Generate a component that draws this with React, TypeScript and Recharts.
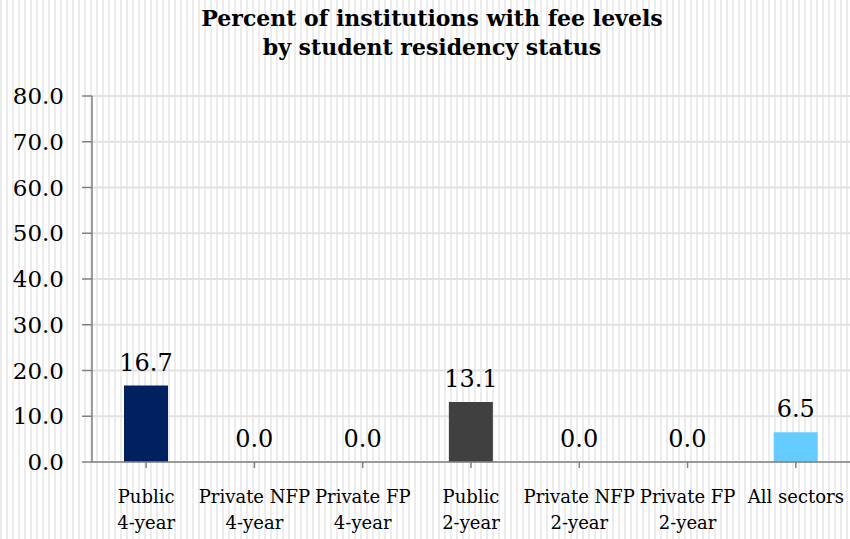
import { Bar, BarChart, CartesianGrid, Cell, XAxis, YAxis } from "recharts";

const sectors = ["Public", "Private NFP", "Private FP", "Public", "Private NFP", "Private FP", "All sectors"];
const levels = ["4-year", "4-year", "4-year", "2-year", "2-year", "2-year", ""];
const percents = [16.7, 0.0, 0.0, 13.1, 0.0, 0.0, 6.5];
const barColors = ["#002060", "#002060", "#002060", "#404040", "#404040", "#404040", "#66CCFF"];
const yTicks = [0, 10, 20, 30, 40, 50, 60, 70, 80];

const data = sectors.map((sector, i) => ({
  name: `${sector}|${levels[i]}`,
  value: percents[i],
}));

const FONT = "DejaVu Serif";

function CategoryTick(props: any) {
  const { x, y, payload } = props;
  const [line1, line2] = String(payload.value).split("|");
  return (
    <g transform={`translate(${x},${y})`}>
      <text x={0} y={0} textAnchor="middle" fontFamily={FONT} fontSize={18} fill="#000">
        <tspan x={0} dy={33}>{line1}</tspan>
        {line2 ? <tspan x={0} dy={26}>{line2}</tspan> : null}
      </text>
    </g>
  );
}

function ValueLabel(props: any) {
  const { x, y, width, height, value } = props;
  // zero bars get a 1px stub so the label is still drawn; keep label on the axis
  const top = value === 0 ? y + height : y;
  return (
    <text
      x={x + width / 2}
      y={top - 15}
      textAnchor="middle"
      fontFamily={FONT}
      fontSize={24}
      fill="#000"
    >
      {Number(value).toFixed(1)}
    </text>
  );
}

export default function App() {
  return (
    <div
      style={{
        position: "absolute",
        left: 0,
        top: 0,
        width: 850,
        height: 539,
        background:
          "repeating-linear-gradient(90deg, #ececec 0px, #ececec 2px, #ffffff 2px, #ffffff 6px)",
        fontFamily: FONT,
      }}
    >
      <div
        style={{
          position: "absolute",
          left: 182,
          width: 500,
          top: 4,
          textAlign: "center",
          fontWeight: "bold",
          fontSize: 22,
          lineHeight: "29px",
          color: "#000",
        }}
      >
        Percent of institutions with fee levels
        <br />
        by student residency status
      </div>
      <BarChart
        width={850}
        height={539}
        data={data}
        margin={{ top: 96, right: 0, bottom: 0, left: 0 }}
        barCategoryGap={0}
      >
        <CartesianGrid vertical={false} stroke="#e2e2e2" strokeWidth={2} />
        <XAxis
          dataKey="name"
          interval={0}
          height={77}
          stroke="#808080"
          strokeWidth={1.5}
          tickSize={6}
          tick={<CategoryTick />}
        />
        <YAxis
          domain={[0, 80]}
          ticks={yTicks}
          width={92}
          stroke="#808080"
          strokeWidth={1.5}
          tickSize={10}
          tickMargin={18}
          tickFormatter={(v) => Number(v).toFixed(1)}
          tick={{ fill: "#000", fontSize: 23, fontFamily: FONT }}
        />
        <Bar
          dataKey="value"
          barSize={44}
          minPointSize={1}
          isAnimationActive={false}
          label={<ValueLabel />}
        >
          {data.map((d, i) => (
            <Cell key={d.name + i} fill={d.value === 0 ? "transparent" : barColors[i]} />
          ))}
        </Bar>
      </BarChart>
    </div>
  );
}
